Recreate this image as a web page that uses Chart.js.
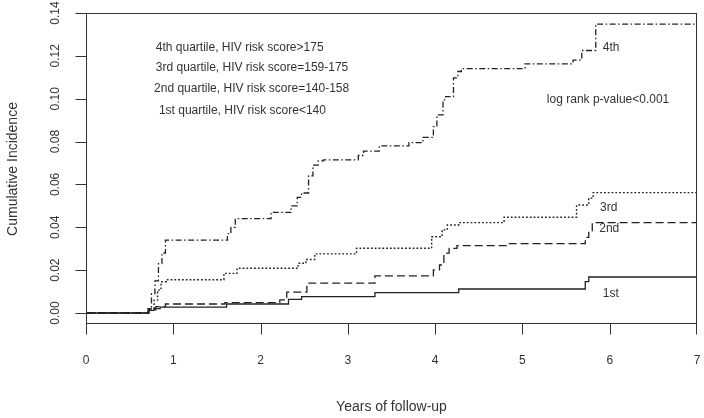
<!DOCTYPE html>
<html>
<head>
<meta charset="utf-8">
<title>Cumulative incidence by HIV risk score quartile</title>
<script src="https://cdn.jsdelivr.net/npm/chart.js@4.4.1/dist/chart.umd.min.js"></script>
<style>
  html, body { margin: 0; padding: 0; background: #fff; }
  #wrap { width: 704px; height: 418px; }
</style>
</head>
<body>
<div id="wrap"><canvas id="kmChart" width="704" height="418"></canvas></div>
<script>
// Step curves: year of each jump and the level reached after it
const q4Times = [0, 0.71, 0.75, 0.79, 0.83, 0.87, 0.91, 1.62, 1.66, 1.71, 2.12, 2.35, 2.42, 2.47, 2.55, 2.60, 2.66, 2.72, 3.12, 3.18, 3.36, 3.70, 3.86, 3.98, 4.02, 4.09, 4.12, 4.21, 4.26, 4.30, 5.03, 5.58, 5.68, 5.84, 7];
const q4Values = [0, 0.002, 0.009, 0.015, 0.023, 0.028, 0.034, 0.037, 0.040, 0.044, 0.047, 0.050, 0.054, 0.056, 0.064, 0.069, 0.071, 0.0715, 0.0735, 0.0755, 0.078, 0.0795, 0.082, 0.087, 0.0925, 0.0995, 0.101, 0.1097, 0.1127, 0.114, 0.1163, 0.118, 0.1225, 0.1348, 0.1348];

const q3Times = [0, 0.72, 0.78, 0.82, 0.86, 0.92, 1.58, 1.73, 2.43, 2.52, 2.62, 3.10, 3.96, 4.08, 4.14, 4.27, 4.79, 5.62, 5.76, 5.81, 7];
const q3Values = [0, 0.002, 0.006, 0.0107, 0.0146, 0.0155, 0.0185, 0.0209, 0.0232, 0.025, 0.0276, 0.0302, 0.0356, 0.0388, 0.0411, 0.0422, 0.0447, 0.0504, 0.0536, 0.0562, 0.0562];

const q2Times = [0, 0.72, 0.80, 0.91, 1.59, 2.22, 2.30, 2.53, 3.31, 3.98, 4.05, 4.10, 4.16, 4.25, 4.85, 5.72, 5.76, 5.80, 7];
const q2Values = [0, 0.0015, 0.003, 0.0042, 0.0048, 0.0061, 0.0097, 0.0139, 0.0173, 0.0201, 0.0224, 0.0279, 0.0302, 0.0314, 0.0324, 0.0353, 0.038, 0.0422, 0.0422];

const q1Times = [0, 0.72, 0.78, 0.85, 1.61, 2.32, 2.47, 3.31, 4.27, 5.72, 5.76, 7];
const q1Values = [0, 0.0012, 0.002, 0.0027, 0.0042, 0.0064, 0.0076, 0.0095, 0.0112, 0.0146, 0.0168, 0.0168];

const xTicks = [0, 1, 2, 3, 4, 5, 6, 7];
const yTicks = [0, 0.02, 0.04, 0.06, 0.08, 0.10, 0.12, 0.14];

// text placed in data units (years, incidence)
const legendLines = [
    '4th quartile, HIV risk score>175',
    '3rd quartile, HIV risk score=159-175',
    '2nd quartile, HIV risk score=140-158',
    '1st quartile, HIV risk score<140'
];
const legendX = [0.80, 0.80, 0.78, 0.835];
const legendY = [0.1237, 0.1143, 0.1045, 0.0943];

const curveLabels = ['4th', '3rd', '2nd', '1st'];
const curveLabelX = [5.92, 5.89, 5.88, 5.92];
const curveLabelY = [0.1237, 0.0491, 0.0392, 0.0092];

const pValueText = 'log rank p-value<0.001';
const pValueX = 5.28;
const pValueY = 0.0994;

const FONT = "'Liberation Sans', Arial, sans-serif";
const INK = '#333';
const TICK_LEN = 11;

function toPoints(times, values) {
    return times.map((t, i) => ({ x: t, y: values[i] }));
}

function curve(label, times, values, dash, width) {
    return {
        label: label,
        data: toPoints(times, values),
        stepped: true,
        borderColor: '#222',
        borderWidth: width,
        borderDash: dash,
        pointRadius: 0,
        fill: false
    };
}

// box, tick marks, rotated y labels, axis titles and annotations
const decorations = {
    id: 'decorations',
    afterDraw(chart) {
        const ctx = chart.ctx;
        const area = chart.chartArea;
        const xs = chart.scales.x;
        const ys = chart.scales.y;

        ctx.save();
        ctx.strokeStyle = INK;
        ctx.lineWidth = 1;
        const l = Math.round(area.left) + 0.5, t = Math.round(area.top) + 0.5;
        const r = Math.round(area.right) - 0.5, b = Math.round(area.bottom) - 0.5;
        ctx.strokeRect(l, t, r - l, b - t);

        ctx.beginPath();
        xTicks.forEach(v => {
            const px = Math.round(xs.getPixelForValue(v)) + (v === xTicks[xTicks.length - 1] ? -0.5 : 0.5);
            ctx.moveTo(px, b);
            ctx.lineTo(px, b + TICK_LEN);
        });
        yTicks.forEach(v => {
            const py = Math.round(ys.getPixelForValue(v)) + 0.5;
            ctx.moveTo(l, py);
            ctx.lineTo(l - TICK_LEN, py);
        });
        ctx.stroke();

        ctx.fillStyle = INK;
        ctx.font = '12px ' + FONT;
        ctx.textAlign = 'center';
        ctx.textBaseline = 'middle';
        yTicks.forEach(v => {
            ctx.save();
            ctx.translate(56, ys.getPixelForValue(v));
            ctx.rotate(-Math.PI / 2);
            ctx.fillText(v.toFixed(2), 0, 0);
            ctx.restore();
        });
        xTicks.forEach(v => {
            ctx.fillText(String(v), xs.getPixelForValue(v), 361);
        });

        ctx.font = '14px ' + FONT;
        ctx.fillText('Years of follow-up', (area.left + area.right) / 2, 407);
        ctx.save();
        ctx.translate(13, 169);
        ctx.rotate(-Math.PI / 2);
        ctx.fillText('Cumulative Incidence', 0, 0);
        ctx.restore();

        ctx.font = '12px ' + FONT;
        ctx.textAlign = 'left';
        legendLines.forEach((txt, i) => {
            ctx.fillText(txt, xs.getPixelForValue(legendX[i]), ys.getPixelForValue(legendY[i]));
        });
        curveLabels.forEach((txt, i) => {
            ctx.fillText(txt, xs.getPixelForValue(curveLabelX[i]), ys.getPixelForValue(curveLabelY[i]));
        });
        ctx.fillText(pValueText, xs.getPixelForValue(pValueX), ys.getPixelForValue(pValueY));
        ctx.restore();
    }
};

window.onload = function() {
    const ctx = document.getElementById('kmChart').getContext('2d');
    new Chart(ctx, {
        type: 'line',
        data: {
            datasets: [
                curve('4th', q4Times, q4Values, [6, 2.5, 1.5, 2.5], 1.3),
                curve('3rd', q3Times, q3Values, [1.8, 2], 1.4),
                curve('2nd', q2Times, q2Values, [8, 4], 1.3),
                curve('1st', q1Times, q1Values, [], 1.3)
            ]
        },
        options: {
            responsive: false,
            animation: false,
            events: [],
            layout: { padding: { top: 13, right: 7, left: 0, bottom: 0 } },
            plugins: {
                legend: { display: false },
                tooltip: { enabled: false },
                title: { display: false }
            },
            scales: {
                x: {
                    type: 'linear',
                    min: 0,
                    max: 7,
                    afterBuildTicks: s => { s.ticks = xTicks.map(v => ({ value: v })); },
                    afterFit: s => { s.height = 94; s.paddingLeft = 0; s.paddingRight = 0; },
                    grid: { display: false },
                    border: { display: false },
                    ticks: { display: false }
                },
                y: {
                    type: 'linear',
                    min: -0.00513,
                    max: 0.14,
                    afterBuildTicks: s => { s.ticks = yTicks.map(v => ({ value: v })); },
                    afterFit: s => { s.width = 86; s.paddingTop = 0; s.paddingBottom = 0; },
                    grid: { display: false },
                    border: { display: false },
                    ticks: { display: false }
                }
            }
        },
        plugins: [decorations]
    });
};
</script>
</body>
</html>
